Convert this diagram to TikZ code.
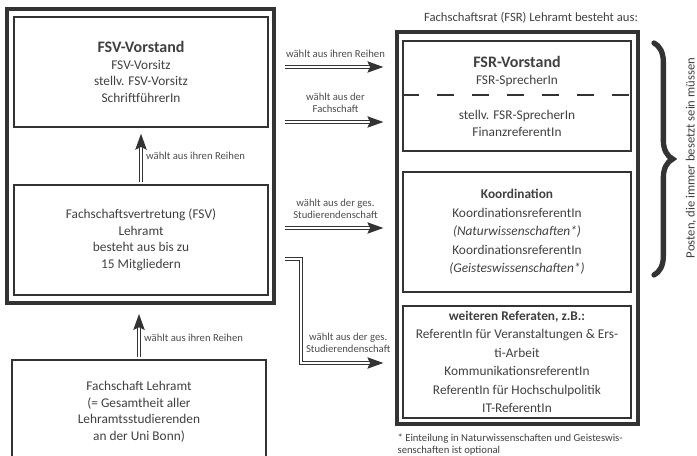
\documentclass[tikz,border=0pt]{standalone}
\usepackage{fontspec}
\setmainfont{Carlito}
\usetikzlibrary{arrows.meta}
\usetikzlibrary{positioning,decorations.pathreplacing}
\colorlet{rahmen}{black!80}
\colorlet{schrift}{black!75}
\newcommand{\boxhead}{\fontsize{12}{12.4}\selectfont\bfseries}

\begin{document}
\begin{tikzpicture}[
x=0.75pt, y=-0.75pt,
every node/.style={text=schrift, align=center, font=\fontsize{10}{12.4}\selectfont},
Outer/.style={draw=rahmen, line width=2.4pt, inner sep=0pt},
Inner/.style={draw=rahmen, line width=1pt, inner sep=0pt, minimum width=190.5pt},
InnerR/.style={draw=rahmen, line width=1pt, inner sep=0pt, minimum width=171pt, font=\fontsize{10}{13.9}\selectfont},
Pfeil/.style={draw=rahmen, double=white, double distance=1.2pt, line width=1.1pt, -{Stealth[length=12pt, width=8.5pt, inset=2pt]}},
Label/.style={font=\fontsize{8}{9}\selectfont, text=black!70},
Trenner/.style={draw=rahmen, line width=1pt, dash pattern=on 12.75pt off 13.5pt},
Klammer/.style={draw=rahmen, line width=4pt, line cap=round, decorate, decoration={brace, amplitude=14pt}}
]
\useasboundingbox (0,0) rectangle (697,456);
\clip (0,0) rectangle (697,456);

% Fachschaftsvertretung (links)
\node[Outer, minimum width=200.25pt, minimum height=220.5pt] (fsv) at (140.5,156) {};
\node[Inner, minimum height=82.5pt] (fsvvorstand) at (141,72)
{{\boxhead FSV-Vorstand}\\FSV-Vorsitz\\stellv. FSV-Vorsitz\\SchriftführerIn};
\node[Inner, minimum height=82.5pt] (fsvgremium) at (141,240)
{Fachschaftsvertretung (FSV)\\Lehramt\\besteht aus bis zu\\15 Mitgliedern};
\node[Inner, minimum height=78pt] (fachschaft) at (139,412)
{Fachschaft Lehramt\\(= Gesamtheit aller\\Lehramtsstudierenden\\an der Uni Bonn)};

\draw[Pfeil, shorten <=1.5pt, shorten >=4.5pt] (fsvgremium.north) -- (fsvvorstand.south)
node[midway, right, Label] {wählt aus ihren Reihen};
\draw[Pfeil, shorten <=2pt, shorten >=7pt] (fachschaft.north) -- (fachschaft.north |- fsv.south)
node[pos=0.4, right, Label] {wählt aus ihren Reihen};

% Fachschaftsrat (rechts)
\node[font=\fontsize{9.5}{11}\selectfont] (fsrtitel) at (531,18) {Fachschaftsrat (FSR) Lehramt besteht aus:};
\node[Outer, minimum width=180.75pt, minimum height=294pt] (fsr) at (517.5,228) {};
\node[InnerR, minimum height=82.5pt] (fsrvorstand) at (517,96) {};
\node (fsroben) at (517,71.5) {{\boxhead FSR-Vorstand}\\FSR-SprecherIn};
\node (fsrunten) at (517,123.5) {stellv. FSR-SprecherIn\\FinanzreferentIn};
\draw[Trenner] (fsrvorstand.west |- 0,95) -- (fsrvorstand.east |- 0,95);

\node[InnerR, minimum height=90pt] (koordination) at (517,232)
{{\bfseries Koordination}\\KoordinationsreferentIn\\\textit{(Naturwissenschaften*)}\\KoordinationsreferentIn\\\textit{(Geisteswissenschaften*)}};
\node[InnerR, minimum height=84pt] (referate) at (517,362)
{{\bfseries weiteren Referaten, z.B.:}\\ReferentIn für Veranstaltungen \& Ers-\\ti-Arbeit\\KommunikationsreferentIn\\ReferentIn für Hochschulpolitik\\IT-ReferentIn};

\node[anchor=north west, align=left, font=\fontsize{8}{9}\selectfont, inner sep=1pt] (fussnote) at (396,432)
{* Einteilung in Naturwissenschaften und Geisteswis-\\senschaften ist optional};

% Klammer
\draw[Klammer] (654,43) -- (654,275);
\node[rotate=90, font=\fontsize{9.5}{11}\selectfont] (posten) at (691,158) {Posten, die immer besetzt sein müssen};

% Pfeile zwischen FSV und FSR
\coordinate (w1) at (0,67);
\coordinate (w2) at (0,122);
\coordinate (w3) at (0,228);
\coordinate (k1) at (301,259);
\coordinate (k2) at (301,363);

\draw[Pfeil, shorten <=6.75pt, shorten >=9pt] (fsv.east |- w1) -- (fsr.west |- w1)
node[midway, above=3pt, Label] {wählt aus ihren Reihen};
\draw[Pfeil, shorten <=6.75pt, shorten >=9pt] (fsv.east |- w2) -- (fsr.west |- w2)
node[midway, above=3pt, Label] {wählt aus der\\Fachschaft};
\draw[Pfeil, shorten <=6.75pt, shorten >=9pt] (fsv.east |- w3) -- (fsr.west |- w3)
node[midway, above=3pt, Label] {wählt aus der ges.\\Studierendenschaft};
\draw[Pfeil, shorten <=6.75pt, shorten >=9pt] (fsv.east |- k1) -- (k1) -- (k2) -- (fsr.west |- k2)
node[midway, above=4pt, Label] {wählt aus der ges.\\Studierendenschaft};

\end{tikzpicture}
\end{document}
